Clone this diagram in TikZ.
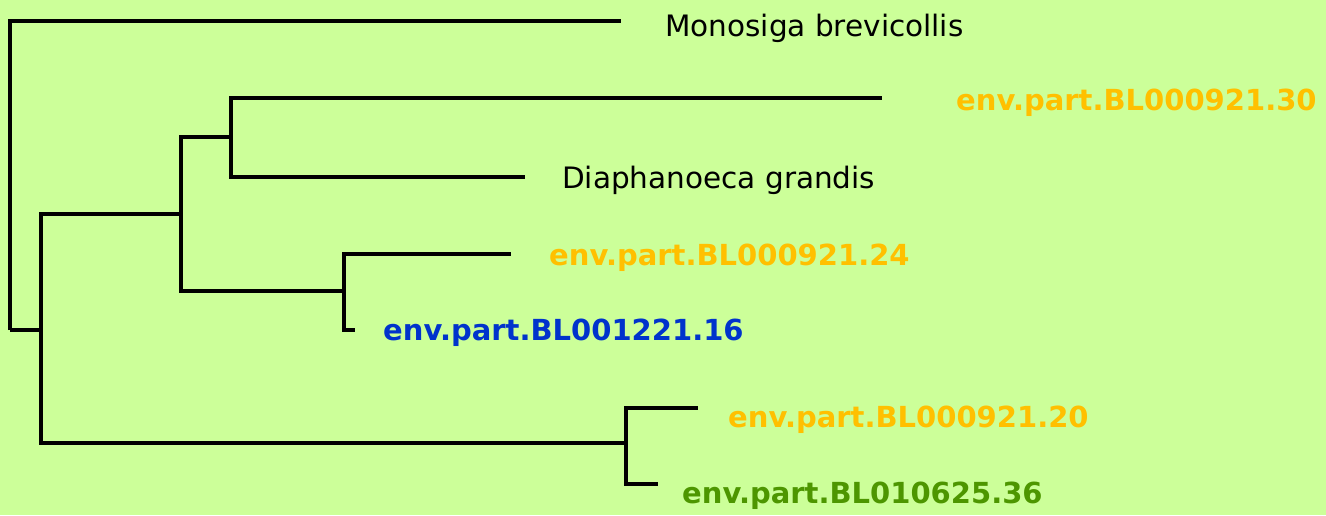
\documentclass[tikz,border=0pt]{standalone}
\usepackage{fontspec}
\setmainfont{DejaVu Sans}
\definecolor{bgc}{RGB}{204,255,153}
\definecolor{orng}{RGB}{255,192,0}
\definecolor{blu}{RGB}{0,51,204}
\definecolor{grn}{RGB}{77,150,0}
\begin{document}
\begin{tikzpicture}[x=1pt,y=-1pt,
  branch/.style={line width=3.6pt, black},
  lbl/.style={anchor=base west, inner sep=0pt, font=\fontsize{29.5}{29.5}\selectfont},
  envlbl/.style={lbl, font=\fontsize{29}{29}\selectfont\bfseries}]
\fill[bgc] (0,0) rectangle (1326,515);
\useasboundingbox (0,0) rectangle (1326,515);
% internal nodes
\coordinate (R) at (10,330);
\coordinate (C) at (41,330);
\coordinate (B) at (181,214);
\coordinate (A) at (231,137);
\coordinate (D) at (344,291);
\coordinate (E) at (626,443);
% leaf ends
\coordinate (mb) at (621,21);
\coordinate (e30) at (882,98);
\coordinate (dg) at (525,177);
\coordinate (e24) at (511,254);
\coordinate (e16) at (355,330);
\coordinate (e20) at (698,408);
\coordinate (e36) at (658,484);
% branches
\draw[branch] (R) |- (mb);
\draw[branch] (R) -- (C);
\draw[branch] (C) |- (B);
\draw[branch] (C) |- (E);
\draw[branch] (B) |- (A);
\draw[branch] (B) |- (D);
\draw[branch] (A) |- (e30);
\draw[branch] (A) |- (dg);
\draw[branch] (D) |- (e24);
\draw[branch] (D) |- (e16);
\draw[branch] (E) |- (e20);
\draw[branch] (E) |- (e36);
% labels
\node[lbl] (Lmb) at (665,36) {Monosiga brevicollis};
\node[envlbl, text=orng] (L30) at (956,110) {env.part.BL000921.30};
\node[lbl] (Ldg) at (562,188) {Diaphanoeca grandis};
\node[envlbl, text=orng] (L24) at (549,265) {env.part.BL000921.24};
\node[envlbl, text=blu] (L16) at (383,340) {env.part.BL001221.16};
\node[envlbl, text=orng] (L20) at (728,427) {env.part.BL000921.20};
\node[envlbl, text=grn] (L36) at (682,503) {env.part.BL010625.36};
\end{tikzpicture}
\end{document}
